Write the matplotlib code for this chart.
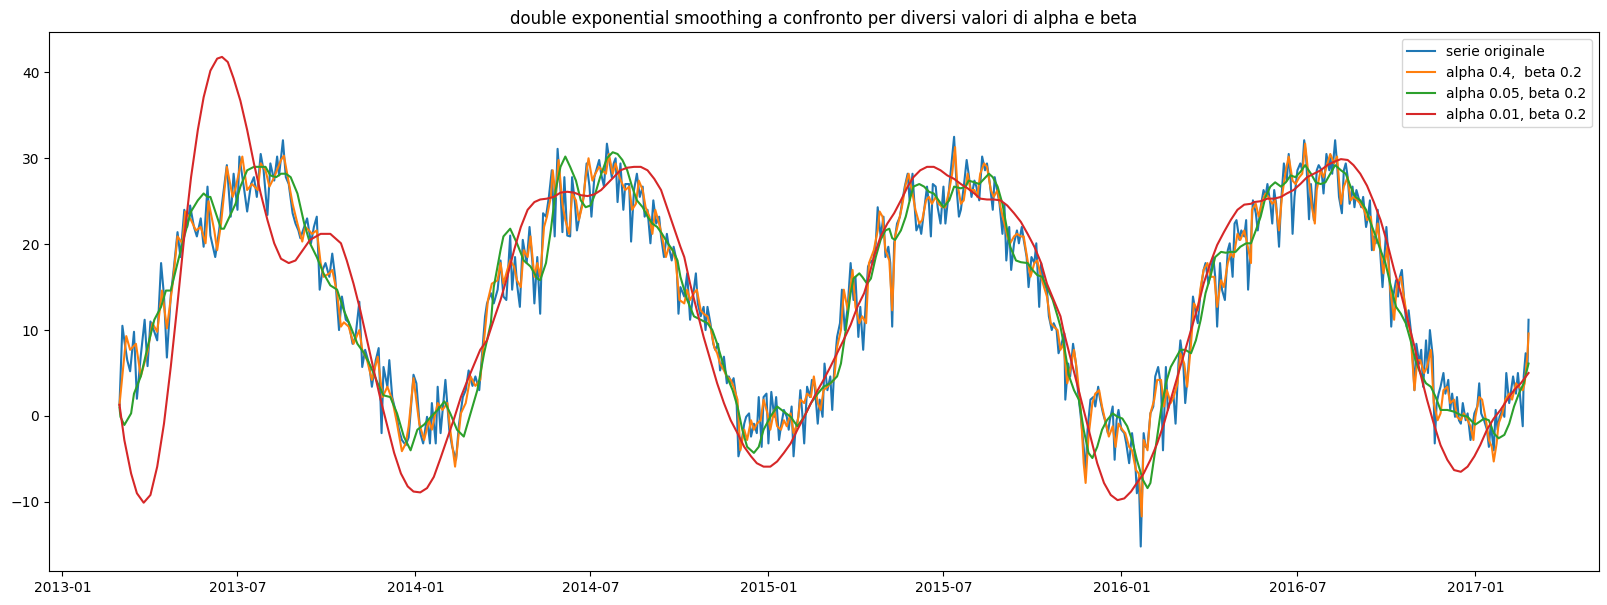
import numpy as np
import matplotlib
matplotlib.use("Agg")
import matplotlib.pyplot as plt
import matplotlib.dates as mdates

# day offset from start_date, value
start_date = np.datetime64("2013-03-01")

title = "double exponential smoothing a confronto per diversi valori di alpha e beta"
labels = ["serie originale", "alpha 0.4,  beta 0.2", "alpha 0.05, beta 0.2", "alpha 0.01, beta 0.2"]

serie_originale = [
    (0, 1.3), (3, 10.5), (5, 8.8), (8, 6.5), (11, 5.2), (15, 9.8), (18, 2.0), (22, 7.0), (26, 11.2), (29, 5.8),
    (32, 11.0), (36, 9.8), (39, 8.8), (43, 17.8), (46, 14.0), (49, 6.8), (53, 14.0), (56, 17.0), (60, 21.4), (63, 18.5),
    (67, 24.0), (70, 22.0), (73, 24.5), (77, 22.0), (80, 20.9), (84, 23.0), (87, 19.7), (91, 26.7), (94, 21.0), (99, 18.5),
    (103, 21.6), (106, 24.7), (111, 29.2), (115, 23.2), (118, 28.2), (122, 24.0), (124, 30.2), (129, 26.3), (132, 23.8), (136, 27.0),
    (139, 27.8), (142, 25.5), (146, 30.5), (149, 28.6), (153, 23.4), (156, 29.4), (160, 27.4), (163, 30.2), (165, 28.0), (169, 32.1),
    (172, 27.8), (175, 27.0), (179, 23.6), (182, 22.4), (185, 21.6),
    (187, 20.7), (191, 22.0), (194, 23.0), (198, 20.1), (201, 22.0), (204, 23.2), (207, 14.7), (210, 17.0), (213, 17.8), (217, 16.2),
    (220, 18.9), (223, 16.2), (227, 10.0), (230, 13.9), (234, 11.2), (237, 10.9), (241, 8.4), (244, 9.2), (248, 13.3), (251, 5.7),
    (254, 7.7), (258, 6.1), (261, 3.4), (265, 6.5), (268, 7.9), (271, -2.0), (273, 5.7), (277, 3.4), (279, 6.5), (282, 2.2),
    (286, 0.3), (289, -1.6), (292, -2.8), (296, -3.4), (299, -2.5), (304, 4.8), (307, 3.8), (311, -2.0), (314, -3.2), (318, -0.1),
    (321, -3.2), (323, 1.5), (327, -3.2), (329, 3.4), (332, -2.0), (337, 4.2), (341, -1.6), (344, -3.6), (348, -5.1), (351, -1.0),
    (355, 2.2), (358, 3.0), (361, 5.3), (365, 3.5), (368, 4.6), (372, 3.0), (375, 7.3), (378, 11.6), (380, 13.1),
    (384, 14.3), (387, 13.1), (391, 14.7), (394, 18.1), (397, 13.9), (400, 13.5), (404, 21.0), (406, 14.7), (409, 18.5), (411, 15.4),
    (414, 12.7), (417, 20.5), (421, 17.8), (424, 22.0), (427, 17.8), (429, 13.1), (432, 18.5), (435, 11.9), (438, 23.6), (441, 23.2),
    (444, 25.5), (447, 28.6), (450, 20.9), (453, 31.1), (456, 26.3), (458, 21.4), (460, 27.8), (463, 21.0), (466, 20.9), (468, 27.8),
    (471, 24.7), (473, 21.6), (477, 24.0), (480, 25.5), (483, 29.4), (486, 26.7), (488, 23.2), (491, 27.8), (493, 28.6), (496, 29.8),
    (498, 28.2), (501, 26.7), (504, 31.7), (506, 30.2), (509, 27.8), (511, 29.4), (513, 30.0), (515, 24.9), (518, 29.4), (521, 24.0),
    (523, 27.0), (527, 27.0), (529, 20.3), (532, 26.3), (535, 28.2), (538, 25.5), (541, 26.7), (543, 23.2), (546, 24.0), (549, 20.1),
    (552, 25.1), (555, 22.4), (558, 23.2), (560, 20.9), (563, 18.5), (566, 21.2), (568, 19.7), (571, 18.1), (573, 19.7), (576, 18.1),
    (578, 11.9),
    (580, 15.0), (584, 13.9), (587, 16.6), (590, 11.2), (593, 13.9), (596, 16.6), (598, 13.1), (601, 11.6), (604, 12.7), (606, 10.0),
    (608, 12.7), (611, 10.8), (614, 8.4), (616, 7.7), (619, 8.4), (621, 5.3), (625, 6.9), (628, 3.8), (630, 4.6), (633, 3.8),
    (635, 4.4), (638, 1.9), (640, -4.7), (643, -3.2), (646, -0.9), (648, -0.1), (651, 0.3), (653, -2.4), (656, -0.9), (659, -2.0),
    (661, 2.2), (664, -3.6), (666, 2.2), (669, 2.6), (671, -3.2), (674, 2.8), (677, -0.1), (679, 2.2), (682, -2.8), (684, -1.2),
    (687, 0.7), (690, -0.1), (692, -1.6), (695, 1.1), (697, -4.7), (699, -1.6), (702, -0.1), (704, 3.0), (706, 0.3), (708, -3.2),
    (711, 3.4), (714, 2.2), (716, 4.2), (719, 3.4), (722, -0.9), (724, 1.9), (727, -0.1), (729, 6.1), (732, 3.0), (735, 4.6),
    (737, 0.7), (739, 5.3), (742, 9.2), (745, 10.8), (747, 14.7), (750, 10.0), (753, 12.7), (756, 17.8), (759, 13.5), (761, 16.2),
    (764, 9.2), (766, 12.7), (769, 7.7), (772, 13.9), (774, 17.4), (777, 18.1),
    (779, 17.8), (782, 20.1), (784, 24.3), (787, 20.9), (790, 23.2), (792, 18.5), (795, 19.7), (797, 17.8), (799, 10.4), (801, 20.1),
    (804, 22.4), (807, 23.2), (809, 24.7), (812, 26.7), (815, 28.2), (817, 25.1), (820, 28.2), (822, 24.7), (824, 21.6), (827, 22.4),
    (829, 21.2), (832, 24.0), (835, 26.7), (837, 24.7), (839, 20.9), (841, 27.0), (844, 26.7), (846, 24.3), (849, 22.4), (852, 26.7),
    (854, 22.4), (857, 25.5), (859, 27.8), (863, 32.5), (866, 25.9), (868, 23.2), (870, 24.0), (873, 26.7), (876, 29.8), (878, 28.2),
    (881, 25.5), (884, 27.4), (886, 26.7), (889, 25.1), (892, 30.2), (895, 28.6), (897, 29.4), (900, 27.0), (903, 24.0), (905, 27.8),
    (908, 25.9), (910, 24.7), (913, 21.2), (915, 24.7), (917, 18.1), (920, 22.0), (922, 17.0), (925, 20.1), (928, 21.6), (930, 20.1),
    (933, 22.0), (935, 20.5), (938, 18.5), (940, 15.0), (943, 18.5), (946, 17.8), (948, 20.1), (951, 12.7), (953, 17.8), (956, 15.4),
    (959, 14.7), (961, 11.6), (964, 10.0), (966, 10.8), (969, 10.0), (971, 7.3), (973, 8.0),
    (977, 9.6), (978, 1.9), (981, 6.1), (983, 4.6), (986, 8.4), (989, 6.1), (991, 3.0), (994, -0.1), (997, -3.6), (999, -6.7),
    (1001, -1.6), (1004, 1.9), (1007, 2.2), (1009, 1.1), (1012, 3.4), (1014, 1.9), (1017, 0.3), (1020, -0.9), (1022, -2.0), (1024, -0.5),
    (1027, 1.1), (1029, -5.1), (1031, -0.5), (1033, 0.7), (1036, -1.6), (1039, -2.0), (1041, -3.2), (1044, -5.5), (1047, -2.0), (1050, -4.7),
    (1052, -9.0), (1054, -7.1), (1056, -15.2), (1059, -2.0), (1061, -3.6), (1063, -3.6), (1066, 0.3), (1069, 1.1), (1071, 4.6), (1074, 5.7),
    (1077, 3.4), (1079, -4.0), (1082, 5.7), (1084, 0.7), (1087, 1.9), (1090, 2.2), (1092, -0.9), (1095, 6.1), (1097, 8.8), (1100, 6.1),
    (1102, 1.5), (1105, 5.3), (1108, 10.0), (1110, 13.9), (1113, 11.9), (1115, 10.8), (1118, 14.7), (1121, 17.0), (1123, 17.8), (1126, 15.4),
    (1128, 16.6), (1131, 18.5), (1133, 16.2), (1135, 10.4), (1138, 17.8), (1140, 14.7), (1143, 13.5), (1146, 19.3), (1148, 20.1), (1151, 16.2),
    (1153, 22.4), (1155, 22.8), (1158, 20.5), (1160, 21.6), (1163, 20.9), (1165, 22.8), (1167, 14.7), (1170, 20.5),
    (1172, 25.1), (1175, 23.6), (1177, 21.6), (1180, 24.3), (1183, 26.3), (1185, 25.5), (1187, 27.0), (1190, 24.7), (1192, 22.4), (1194, 26.3),
    (1196, 24.7), (1199, 19.7), (1201, 24.7), (1204, 29.4), (1207, 27.4), (1209, 30.5), (1211, 27.8), (1213, 21.2), (1215, 25.5), (1218, 28.6),
    (1221, 29.4), (1223, 28.6), (1225, 32.1), (1227, 30.2), (1230, 22.9), (1232, 27.0), (1235, 22.8), (1238, 28.6), (1240, 29.2), (1243, 28.6),
    (1245, 25.9), (1248, 30.5), (1251, 28.6), (1252, 30.2), (1254, 28.2), (1257, 32.1), (1259, 29.4), (1261, 25.5), (1264, 23.6), (1266, 28.6),
    (1268, 29.4), (1270, 27.8), (1272, 24.7), (1275, 26.7), (1277, 24.3), (1279, 26.3), (1282, 25.1), (1284, 24.3), (1286, 25.5), (1289, 22.0),
    (1291, 23.2), (1293, 25.1), (1295, 19.3), (1297, 20.9), (1299, 20.1), (1301, 24.0), (1303, 20.1), (1306, 15.0), (1308, 18.5), (1310, 22.0),
    (1313, 17.0), (1315, 10.4), (1317, 13.9), (1320, 15.8), (1322, 13.9), (1324, 16.2), (1326, 17.0), (1329, 12.7), (1331, 10.4), (1333, 12.3),
    (1336, 9.2), (1339, 3.0), (1341, 8.4), (1344, 6.1), (1346, 7.7), (1348, 3.4), (1351, 8.8), (1353, 5.0), (1355, 10.0), (1358, 6.9),
    (1360, -3.2), (1362, 1.5), (1364, 2.6),
    (1366, 3.4), (1369, 5.0), (1371, 2.6), (1374, 4.2), (1376, 0.7), (1378, 2.6), (1381, -0.1), (1383, 2.2), (1385, -0.5), (1387, -0.9),
    (1389, 1.5), (1392, -0.5), (1394, 0.3), (1397, -2.8), (1399, -1.2), (1401, 0.3), (1404, 1.1), (1406, 3.8), (1408, 0.3), (1411, -0.5),
    (1414, -1.6), (1416, -3.6), (1418, -0.9), (1421, -4.0), (1423, 0.7), (1425, -1.6), (1427, -0.1), (1430, 0.7), (1432, -0.1), (1434, 5.0),
    (1437, 1.5), (1439, 3.0), (1441, 4.6), (1444, 2.6), (1446, 5.0), (1448, 2.6), (1451, -1.2), (1452, 4.6), (1454, 7.3), (1456, 6.1),
    (1457, 11.2),
]

alpha_04 = [
    (0, 1.3), (7, 9.3), (11, 7.7), (17, 8.4), (22, 4.6), (29, 7.5), (34, 10.8), (39, 9.8), (44, 14.6), (49, 10.2),
    (55, 15.4), (60, 20.9), (65, 20.1), (68, 23.8), (74, 22.8), (79, 21.6), (84, 22.0), (89, 20.1), (92, 25.0), (98, 21.6),
    (101, 19.3), (105, 22.4), (111, 29.0), (117, 25.5), (120, 26.5), (127, 30.2), (132, 26.3), (137, 27.0), (143, 26.3), (146, 29.4),
    (151, 28.6), (155, 26.7), (160, 27.8), (167, 29.8), (170, 30.3), (174, 27.8), (179, 24.7), (184, 22.4),
    (189, 20.3), (192, 22.0), (196, 21.6), (199, 21.2), (204, 21.6), (208, 17.8), (211, 16.2), (217, 16.6), (220, 17.0), (225, 14.3),
    (229, 10.4), (232, 10.9), (237, 10.4), (242, 8.4), (248, 10.0), (251, 7.7), (256, 6.5), (261, 4.2), (267, 6.9), (272, 2.2),
    (277, 3.4), (282, 1.9), (287, -0.9), (292, -4.1), (296, -3.2), (299, -1.2), (304, 4.4), (310, -0.9), (315, -2.8), (320, -0.5),
    (323, -1.6), (329, 1.5), (334, 0.7), (339, 1.5), (342, -1.6), (347, -5.9), (349, -4.0), (353, 0.3), (358, 1.5), (363, 4.6),
    (368, 3.5), (373, 4.2), (377, 8.8), (381, 13.5),
    (385, 15.4), (391, 15.8), (394, 17.8), (397, 15.4), (401, 17.0), (404, 18.1), (408, 17.4), (411, 15.8), (415, 15.0), (418, 19.3),
    (422, 18.5), (425, 20.9), (429, 16.2), (432, 17.8), (435, 16.2), (439, 22.0), (442, 23.2), (446, 25.5), (448, 28.6), (451, 25.5),
    (454, 29.8), (458, 24.7), (461, 22.8), (465, 21.2), (468, 25.9), (472, 25.1), (475, 22.8), (479, 24.7), (482, 27.8), (485, 30.0),
    (489, 27.4), (492, 28.2), (496, 29.0), (499, 28.6), (503, 28.2), (506, 30.5), (510, 28.2), (513, 29.4), (517, 27.8), (520, 27.0),
    (523, 26.3), (527, 26.7), (530, 24.0), (534, 24.7), (537, 27.4), (541, 26.3), (544, 24.3), (548, 23.2), (551, 21.2), (554, 24.0),
    (558, 22.4), (561, 20.9), (565, 18.5), (568, 19.7), (572, 19.3), (575, 18.1), (579, 13.5),
    (584, 13.1), (587, 14.7), (590, 13.5), (594, 14.3), (597, 14.7), (601, 12.3), (604, 11.9), (608, 11.6), (611, 10.4), (615, 8.0),
    (618, 7.3), (621, 6.1), (625, 5.3), (628, 4.6), (632, 4.2), (635, 3.4), (639, 1.9), (642, -4.0), (646, -1.6), (649, -2.8),
    (653, -0.5), (656, -1.6), (659, -0.9), (663, -0.5), (666, 1.9), (670, 0.3), (673, -1.6), (677, 0.7), (680, -1.2), (684, -1.6),
    (687, -0.5), (690, -1.2), (694, 0.3), (697, -2.0), (701, -0.9), (704, 1.9), (708, 1.5), (711, 2.6), (715, 2.2), (718, 4.6),
    (722, 1.5), (725, 0.7), (728, 3.0), (732, 3.4), (735, 3.8), (739, 4.2), (742, 8.0), (746, 10.0), (749, 14.7), (753, 12.3),
    (758, 17.0), (761, 12.7), (765, 10.8), (768, 11.6), (772, 10.8), (775, 17.8),
    (780, 19.3), (784, 21.6), (786, 23.8), (789, 23.2), (792, 19.3), (796, 18.1), (799, 12.3), (802, 20.9), (806, 22.8), (809, 24.3),
    (813, 27.0), (816, 28.2), (820, 25.9), (823, 24.0), (827, 22.4), (830, 22.8), (834, 25.1), (837, 25.5), (840, 24.7), (844, 25.5),
    (847, 24.7), (851, 24.3), (854, 24.3), (858, 26.3), (861, 28.2), (864, 31.3), (866, 27.4), (870, 24.7), (873, 25.1), (877, 28.2),
    (880, 26.3), (884, 26.3), (887, 25.5), (890, 28.2), (894, 29.4), (897, 29.0), (901, 26.3), (904, 25.5), (908, 26.3), (911, 24.3),
    (915, 22.4), (918, 20.9), (921, 20.1), (925, 20.9), (928, 21.2), (932, 20.9), (935, 20.9), (939, 18.1), (942, 16.2), (946, 17.8),
    (949, 18.1), (953, 16.2), (956, 15.0), (959, 13.9), (963, 10.8), (966, 10.4), (970, 10.0), (973, 7.7),
    (976, 8.4), (980, 3.8), (983, 5.3), (987, 7.7), (990, 5.3), (994, 0.7), (997, -5.5), (999, -7.8), (1002, -2.4), (1006, 1.5),
    (1009, 2.6), (1013, 3.0), (1016, 1.1), (1020, -0.9), (1023, -2.4), (1027, -1.2), (1030, -3.6), (1033, -0.9), (1037, -1.6), (1040, -2.0),
    (1044, -3.6), (1047, -4.0), (1051, -6.3), (1054, -6.7), (1057, -11.7), (1059, -2.8), (1063, -4.0), (1066, 0.3), (1070, 1.9), (1073, 4.2),
    (1077, 4.2), (1080, 1.1), (1083, 3.0), (1087, 1.5), (1090, 2.2), (1094, 3.8), (1097, 7.3), (1101, 6.1), (1104, 3.4), (1108, 8.4),
    (1111, 13.1), (1115, 12.3), (1118, 15.0), (1121, 17.0), (1125, 17.8), (1128, 16.2), (1132, 16.2), (1135, 12.7), (1139, 15.8), (1142, 15.0),
    (1146, 17.8), (1149, 18.9), (1152, 18.5), (1156, 21.2), (1159, 20.5), (1163, 21.6), (1166, 20.1), (1170, 17.8),
    (1171, 24.0), (1175, 24.7), (1178, 23.2), (1182, 25.1), (1185, 25.9), (1188, 25.5), (1192, 24.7), (1195, 25.1), (1199, 21.6), (1202, 25.5),
    (1206, 28.6), (1209, 30.2), (1213, 27.4), (1216, 27.0), (1220, 27.8), (1223, 28.2), (1226, 31.7), (1230, 27.4), (1233, 24.3), (1236, 22.4),
    (1238, 26.3), (1242, 28.6), (1245, 27.8), (1249, 29.4), (1252, 30.5), (1256, 29.4), (1259, 30.2), (1263, 24.7), (1266, 26.7), (1270, 27.8),
    (1273, 25.1), (1276, 25.5), (1280, 25.1), (1283, 24.7), (1287, 24.0), (1290, 22.8), (1294, 23.2), (1297, 19.3), (1301, 22.4), (1304, 19.3),
    (1307, 16.6), (1311, 19.7), (1314, 14.7), (1318, 11.2), (1321, 15.4), (1325, 16.2), (1328, 13.9), (1332, 11.2), (1335, 9.6), (1339, 3.0),
    (1342, 6.5), (1345, 6.5), (1349, 5.0), (1352, 5.7), (1356, 7.7), (1359, 1.5), (1363, -0.5), (1366, 0.3),
    (1369, 3.0), (1373, 3.4), (1376, 1.5), (1380, 1.9), (1383, -0.1), (1387, -0.5), (1390, 0.3), (1394, -0.5), (1397, -1.2), (1400, -2.8),
    (1402, -0.1), (1406, 2.2), (1409, 1.9), (1413, -0.5), (1416, -2.8), (1419, -3.6), (1421, -5.3), (1424, -3.2), (1426, -0.9), (1430, 0.3),
    (1433, 1.9), (1437, 2.6), (1440, 1.9), (1444, 3.8), (1447, 3.4), (1451, 3.0), (1453, 3.8), (1456, 7.3), (1457, 9.6),
]

alpha_005 = [
    (0, 1.0), (1, -0.1), (5, -1.05), (12, 0.3), (15, 2.6), (22, 4.6), (29, 8.0), (36, 11.2), (43, 12.7), (48, 14.6),
    (53, 14.6), (60, 17.8), (67, 20.9), (74, 23.8), (81, 25.1), (87, 25.9), (91, 25.5), (94, 25.5), (99, 23.8), (105, 21.8),
    (108, 21.8), (113, 23.0), (120, 24.7), (125, 26.7), (132, 28.6), (139, 29.0), (146, 29.0), (151, 29.0), (156, 28.0), (162, 27.8),
    (167, 28.2), (172, 28.2), (177, 27.8), (184, 25.9),
    (191, 22.4), (197, 20.1), (204, 18.5), (211, 16.6), (218, 15.2), (225, 14.7), (232, 12.3), (239, 10.4), (246, 8.4), (253, 7.3),
    (260, 5.7), (267, 3.8), (273, 2.4), (280, 2.2), (287, 0.3), (294, -2.4), (301, -4.0), (308, -1.6), (315, -1.0), (322, -0.1),
    (329, 0.7), (336, 1.7), (342, 0.3), (349, -1.6), (356, -2.4), (363, 0.3), (370, 3.0), (377, 7.3), (384, 10.8),
    (387, 15.0), (394, 19.3), (397, 20.9), (404, 21.8), (411, 20.1), (418, 18.1), (425, 17.4), (432, 16.0), (435, 15.8), (441, 17.8),
    (446, 21.6), (451, 26.3), (456, 29.0), (461, 30.2), (466, 29.0), (472, 27.4), (477, 25.1), (482, 24.3), (487, 24.5), (492, 25.9),
    (497, 27.8), (504, 30.0), (510, 30.7), (515, 30.5), (520, 29.8), (525, 28.6), (530, 26.7), (535, 25.1), (541, 24.3), (546, 23.2),
    (551, 22.4), (556, 22.0), (561, 21.2), (567, 20.1), (572, 19.3), (577, 18.1), (580, 16.2),
    (587, 13.5), (594, 11.6), (601, 11.2), (608, 10.8), (613, 10.0), (618, 8.4), (623, 6.5), (628, 4.6), (634, 3.0), (639, 1.1),
    (644, -1.6), (649, -3.6), (656, -4.3), (661, -3.6), (666, -1.6), (673, -0.1), (680, 1.1), (687, 0.5), (694, -0.1), (701, -1.2),
    (708, -0.1), (715, 1.5), (722, 2.6), (728, 3.4), (735, 3.8), (742, 4.6), (746, 6.1), (751, 10.0), (756, 14.3), (759, 16.0),
    (765, 16.6), (768, 16.2), (773, 15.4), (777, 16.0),
    (782, 18.5), (787, 20.5), (792, 21.6), (796, 21.8), (799, 20.7), (802, 20.5), (808, 21.6), (813, 23.2), (818, 25.5), (821, 26.7),
    (827, 27.0), (832, 26.7), (837, 26.1), (842, 25.9), (847, 25.1), (852, 24.3), (858, 25.1), (863, 26.7), (870, 26.5), (875, 26.7),
    (878, 27.4), (884, 27.2), (889, 27.0), (894, 27.6), (899, 28.2), (903, 27.8), (908, 26.7), (913, 24.7), (916, 22.8), (921, 19.7),
    (927, 18.1), (932, 17.9), (939, 17.8), (944, 17.0), (949, 16.4), (954, 16.2), (959, 15.0), (965, 13.5), (970, 11.6), (973, 10.4),
    (977, 8.0), (982, 4.6), (987, 3.0), (992, 1.9), (997, -1.6), (1002, -4.3), (1006, -4.9), (1011, -3.6), (1016, -1.6), (1021, -0.5),
    (1027, 0.3), (1032, -0.1), (1037, -0.3), (1042, -1.2), (1047, -2.8), (1052, -5.1), (1058, -7.4), (1063, -8.4), (1066, -7.8), (1071, -4.0),
    (1077, 0.7), (1082, 3.8), (1087, 5.7), (1092, 6.7), (1097, 7.7), (1102, 7.7), (1108, 7.3), (1113, 8.8), (1118, 11.2), (1123, 14.3),
    (1128, 16.2), (1133, 18.5), (1139, 19.1), (1144, 19.0), (1149, 19.1), (1154, 19.1), (1159, 19.7), (1165, 20.1), (1170, 20.1),
    (1175, 21.6), (1180, 23.2), (1185, 25.5), (1190, 26.7), (1195, 27.2), (1201, 26.7), (1206, 27.2), (1211, 28.0), (1216, 27.8), (1221, 28.4),
    (1226, 29.2), (1232, 28.2), (1237, 27.2), (1242, 27.0), (1247, 27.2), (1252, 28.2), (1257, 29.2), (1263, 28.6), (1268, 28.2), (1273, 26.7),
    (1278, 25.5), (1283, 25.1), (1289, 24.0), (1294, 22.4), (1299, 20.9), (1304, 19.3), (1309, 17.8), (1314, 15.4), (1320, 12.7), (1325, 11.9),
    (1330, 10.8), (1335, 8.8), (1340, 6.5), (1345, 5.0), (1351, 3.8), (1356, 3.4), (1361, 2.2), (1366, 0.7),
    (1373, 0.7), (1380, 0.5), (1387, 0.1), (1394, -0.1), (1399, -0.7), (1402, -1.0), (1406, -0.7), (1411, -0.3), (1416, -0.5), (1421, -2.0),
    (1426, -2.6), (1432, -2.2), (1437, -0.9), (1442, 1.1), (1447, 2.6), (1452, 3.8), (1457, 6.1),
]

alpha_001 = [
    (0, 1.3), (5, -2.8), (12, -6.7), (18, -9.0), (25, -10.1), (32, -9.2), (39, -5.9), (46, -0.9), (53, 5.7), (60, 13.1),
    (67, 20.9), (74, 27.8), (81, 33.3), (87, 37.1), (94, 40.2), (101, 41.6), (106, 41.8), (112, 41.2), (118, 39.3), (125, 36.7),
    (132, 33.3), (139, 29.4), (146, 25.9), (153, 22.8), (160, 20.1), (167, 18.3), (175, 17.8), (182, 18.1),
    (187, 18.9), (197, 20.5), (208, 21.2), (218, 21.2), (229, 20.1), (235, 18.1), (242, 15.4), (249, 12.3), (256, 8.8), (263, 5.3),
    (270, 1.9), (277, -1.2), (284, -4.3), (291, -6.7), (298, -8.2), (304, -8.8), (311, -8.9), (318, -8.4), (325, -7.1), (332, -4.9),
    (339, -2.6), (346, -0.3), (353, 2.2), (360, 4.2), (367, 6.1), (373, 7.7),
    (380, 8.8), (387, 11.2), (394, 13.5), (401, 16.2), (408, 19.3), (415, 22.0), (422, 24.0), (429, 24.9), (435, 25.2), (442, 25.3),
    (449, 25.5), (456, 26.0), (463, 26.1), (470, 26.0), (477, 25.7), (484, 25.6), (491, 25.8), (498, 26.3), (504, 27.0), (511, 27.8),
    (518, 28.6), (525, 28.9), (532, 29.0), (539, 29.0), (546, 28.6), (553, 27.6), (560, 26.3), (567, 24.0), (573, 22.0), (580, 19.7),
    (584, 18.5), (590, 15.4), (597, 12.3), (604, 9.2), (611, 6.5), (618, 3.8), (625, 1.5), (632, -0.5), (639, -2.0), (646, -3.6),
    (653, -4.7), (659, -5.5), (666, -5.9), (673, -5.9), (680, -5.3), (687, -4.3), (694, -3.2), (701, -1.6), (708, -0.1), (715, 1.5),
    (722, 3.0), (728, 4.2), (735, 5.7), (742, 7.3), (749, 8.9), (756, 10.6), (763, 12.7), (770, 14.3),
    (773, 15.4), (780, 18.5), (787, 20.9), (794, 22.4), (801, 23.6), (808, 25.1), (815, 26.7), (821, 27.8), (828, 28.6), (835, 29.0),
    (842, 29.0), (849, 28.6), (856, 28.0), (863, 27.6), (870, 27.0), (877, 26.5), (884, 25.9), (890, 25.3), (897, 25.2), (904, 25.2),
    (911, 25.1), (918, 24.5), (925, 23.6), (932, 22.6), (939, 21.2), (946, 19.7), (953, 17.8), (959, 15.4), (966, 13.5), (973, 11.6),
    (976, 10.0), (983, 6.9), (990, 3.8), (997, 0.7), (1004, -2.4), (1011, -5.5), (1018, -7.8), (1025, -9.2), (1032, -9.8), (1039, -9.6),
    (1046, -8.8), (1052, -7.8), (1059, -6.7), (1066, -5.1), (1073, -3.2), (1080, -0.9), (1087, 1.9), (1094, 4.6), (1101, 7.3), (1108, 10.0),
    (1115, 12.7), (1121, 15.4), (1128, 17.8), (1135, 19.9), (1142, 21.4), (1149, 22.8), (1156, 24.0), (1163, 24.6), (1170, 24.7),
    (1173, 24.9), (1180, 25.0), (1187, 25.3), (1194, 25.3), (1201, 25.5), (1207, 25.9), (1214, 26.3), (1221, 27.0), (1228, 27.8), (1235, 28.2),
    (1242, 28.6), (1249, 29.2), (1256, 29.6), (1263, 29.9), (1270, 29.8), (1276, 29.2), (1283, 28.2), (1290, 26.8), (1297, 24.9), (1304, 22.8),
    (1311, 20.1), (1318, 17.0), (1325, 14.3), (1332, 11.2), (1339, 8.1), (1345, 5.0), (1352, 1.9), (1359, -0.9), (1366, -3.4),
    (1373, -5.1), (1380, -6.3), (1387, -6.5), (1394, -5.9), (1401, -4.7), (1407, -3.4), (1414, -1.6), (1421, -0.3), (1428, 0.7), (1435, 1.9),
    (1442, 3.0), (1449, 3.8), (1457, 5.0),
]


def to_dates(points):
    pts = sorted(points)
    days = np.array([p[0] for p in pts], dtype=int)
    vals = np.array([p[1] for p in pts], dtype=float)
    return start_date + days.astype("timedelta64[D]"), vals


fig = plt.figure(figsize=(16.08, 6.05), dpi=100)
ax = fig.add_subplot(1, 1, 1)
fig.subplots_adjust(left=0.0305, right=0.9944, top=0.9464, bottom=0.0562)

for series, label in zip([serie_originale, alpha_04, alpha_005, alpha_001], labels):
    x, y = to_dates(series)
    ax.plot(x, y, linewidth=1.5, label=label)

ax.xaxis.set_major_locator(mdates.MonthLocator(bymonth=[1, 7]))
ax.xaxis.set_major_formatter(mdates.DateFormatter("%Y-%m"))
ax.set_title(title)
ax.legend(loc="upper right")

fig.savefig("out.png", dpi=100)
